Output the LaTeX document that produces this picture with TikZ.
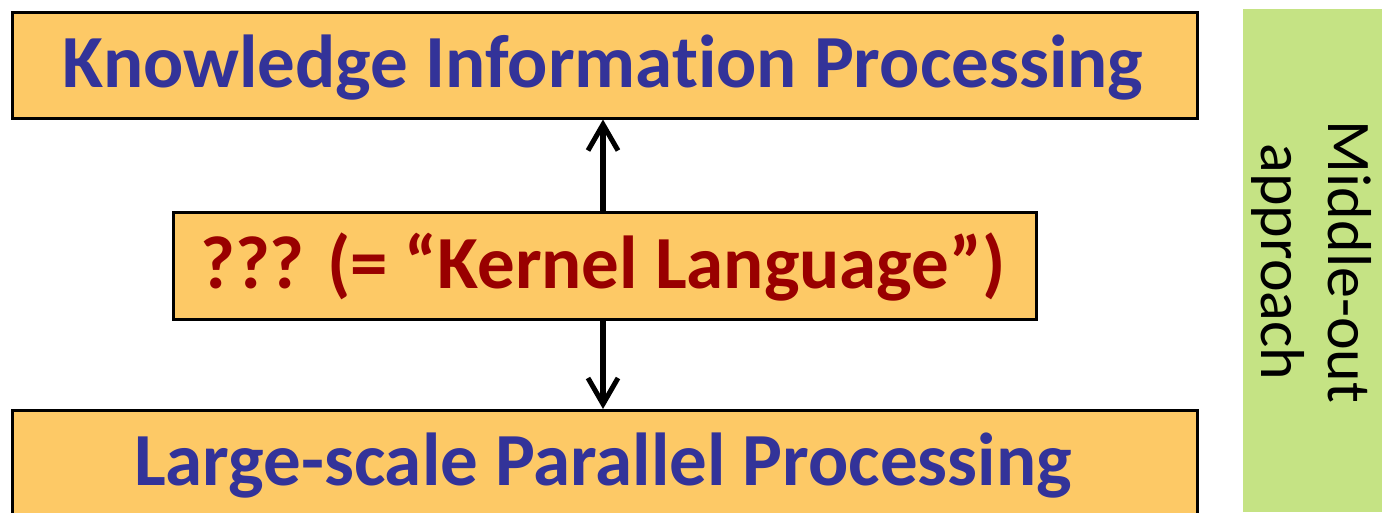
\documentclass[tikz,border=0pt]{standalone}
\usepackage{fontspec}
\setmainfont[Ligatures=NoCommon, RawFeature={-liga;-dlig;-calt}]{Carlito}
\usetikzlibrary{arrows.meta}
\definecolor{boxfill}{HTML}{FDC966}
\definecolor{sidefill}{HTML}{C5E384}
\definecolor{topblue}{HTML}{333399}
\definecolor{kernelred}{HTML}{990000}
\tikzset{
  layerbox/.style={draw=black, line width=2.5pt, fill=boxfill},
  linkarrow/.style={draw=black, line width=6.5pt, -{Straight Barb[length=26pt, width=30pt, line width=5pt]}},
}
\begin{document}
\begin{tikzpicture}[x=1pt, y=-1pt]
\useasboundingbox (0,0) rectangle (1382,512);
% side band
\fill[sidefill] (1243,9) rectangle (1382,512);
\node[rotate=-90, align=center, font=\fontsize{62}{67}\selectfont] (side) at (1312,262) {Middle-out\\approach};
% the three layers
\begin{scope}
\clip (0,0) rectangle (1382,512);
\node[layerbox, minimum width=1185pt, minimum height=106pt, inner sep=0pt, anchor=north west] (top) at (11,11) {};
\node[layerbox, minimum width=1185pt, minimum height=130pt, inner sep=0pt, anchor=north west] (bottom) at (11,409) {};
\end{scope}
\node[layerbox, minimum width=863pt, minimum height=107pt, inner sep=0pt, anchor=north west] (mid) at (172,211) {};
\node[text=topblue, font=\fontsize{75}{80}\selectfont\bfseries] (toptext) at (603,68) {Knowledge Informat\kern0pt ion Processing};
\node[text=kernelred, font=\fontsize{75}{80}\selectfont\bfseries] (midtext) at (603,267) {??? (= “Kernel Language”)};
\node[text=topblue, font=\fontsize{75}{80}\selectfont\bfseries] (bottomtext) at (603,466) {Large-scale Parallel Processing};
% connectors
\draw[linkarrow] (mid.north -| 603,0) -- (top.south -| 603,0);
\draw[linkarrow] (mid.south -| 603,0) -- (bottom.north -| 603,0);
\end{tikzpicture}
\end{document}
